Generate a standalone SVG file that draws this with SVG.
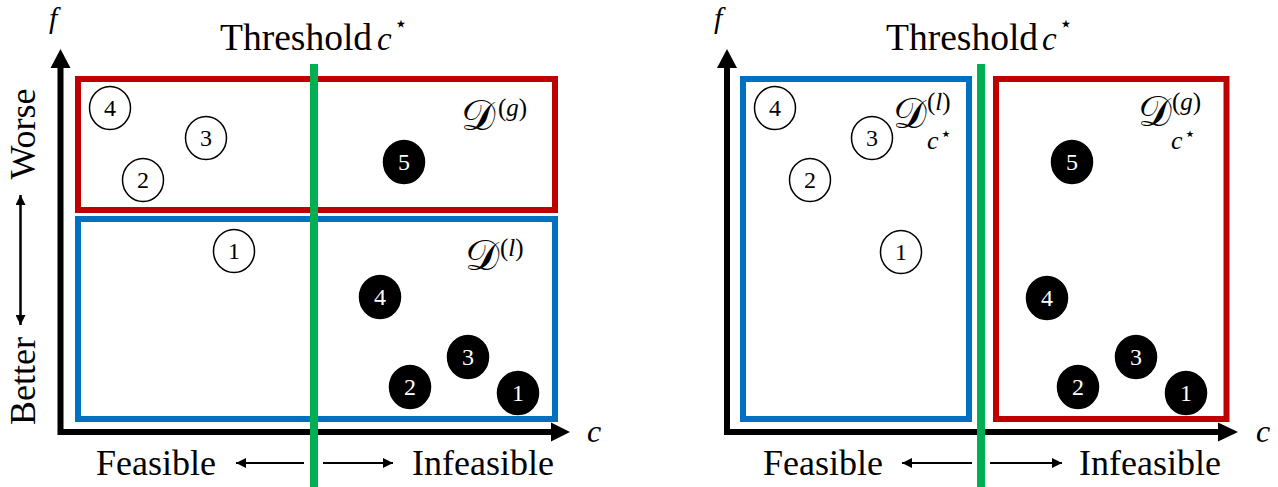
<svg xmlns="http://www.w3.org/2000/svg" width="1278" height="487" viewBox="0 0 1278 487">
  <defs>
    <style>
      .txt { font-family: "Liberation Serif", "Times New Roman", serif; fill: #000; }
      .lbl { font-size: 36px; }
      .it { font-family: "Liberation Serif", serif; font-style: italic; fill: #000; }
      .cal { font-family: "DejaVu Serif", "DejaVu Sans", "Noto Sans", serif; fill: #000; }
      .star { font-family: "DejaVu Sans", sans-serif; fill: #000; }
      .axis { fill: none; stroke: #000; stroke-width: 6; stroke-linejoin: miter; }
      .thin { stroke: #000; stroke-width: 2; fill: none; }
      .thr { stroke: #00B050; stroke-width: 8; }
      .setg { fill: none; stroke: #C00000; stroke-width: 6; }
      .setl { fill: none; stroke: #0070C0; stroke-width: 6; }
      .wpt ellipse { fill: #fff; stroke: #000; stroke-width: 1.5; }
      .bpt ellipse { fill: #000; stroke: #000; stroke-width: 1.5; }
      .num { font-family: "Liberation Serif", serif; font-size: 24px; text-anchor: middle; }
      .wpt .num { fill: #000; }
      .bpt .num { fill: #fff; }
    </style>
    <marker id="head" viewBox="0 0 10 10" refX="10" refY="5" markerWidth="10" markerHeight="10" markerUnits="userSpaceOnUse" orient="auto">
      <path d="M0,0 L10,5 L0,10 Z" fill="#000"/>
    </marker>
  </defs>
  <rect width="1278" height="487" fill="#fff"/>

  <!-- ===== Left panel: split by objective f ===== -->
  <g id="left-axes">
    <path class="axis" d="M60.5,66 V432 H552"/>
    <polygon points="50.5,68 60.5,49 70.5,68" fill="#000"/>
    <polygon points="551,422.5 570,432 551,441.5" fill="#000"/>
    <text class="it" x="49" y="28" font-size="30">f</text>
    <text class="it" x="587" y="442" font-size="32">c</text>
  </g>

  <g id="left-quality">
    <text class="txt lbl" transform="translate(35,134) rotate(-90)" text-anchor="middle">Worse</text>
    <text class="txt lbl" transform="translate(35,381) rotate(-90)" text-anchor="middle">Better</text>
  </g>

  <g id="left-sets">
    <rect id="left-Dg" class="setg" x="78" y="79" width="477" height="131"/>
    <rect id="left-Dl" class="setl" x="78" y="219" width="477" height="200"/>
    <g id="left-Dg-label">
      <text class="cal" x="461" y="130" font-size="43">𝒟</text>
      <text class="txt" x="498" y="116" font-size="25">(<tspan class="it">g</tspan>)</text>
    </g>
    <g id="left-Dl-label">
      <text class="cal" x="465" y="270" font-size="43">𝒟</text>
      <text class="txt" x="500" y="256" font-size="25">(<tspan class="it">l</tspan>)</text>
    </g>
  </g>

  <g id="left-points">
    <g class="wpt" id="lw4"><ellipse cx="110" cy="108" rx="20.5" ry="21.5"/><text class="num" x="110" y="116">4</text></g>
    <g class="wpt" id="lw3"><ellipse cx="206" cy="138" rx="20.5" ry="21.5"/><text class="num" x="206" y="146">3</text></g>
    <g class="wpt" id="lw2"><ellipse cx="143" cy="180" rx="20.5" ry="21.5"/><text class="num" x="143" y="188">2</text></g>
    <g class="wpt" id="lw1"><ellipse cx="234" cy="251" rx="20.5" ry="21.5"/><text class="num" x="234" y="259">1</text></g>
    <g class="bpt" id="lb5"><ellipse cx="404" cy="162" rx="20.5" ry="21.5"/><text class="num" x="404" y="170">5</text></g>
    <g class="bpt" id="lb4"><ellipse cx="380" cy="297" rx="20.5" ry="21.5"/><text class="num" x="380" y="305">4</text></g>
    <g class="bpt" id="lb3"><ellipse cx="468" cy="357" rx="20.5" ry="21.5"/><text class="num" x="468" y="365">3</text></g>
    <g class="bpt" id="lb2"><ellipse cx="410" cy="387" rx="20.5" ry="21.5"/><text class="num" x="410" y="395">2</text></g>
    <g class="bpt" id="lb1"><ellipse cx="518" cy="393" rx="20.5" ry="21.5"/><text class="num" x="518" y="401">1</text></g>
  </g>

  <g id="left-threshold">
    <line class="thr" x1="314" y1="64" x2="314" y2="487"/>
    <text class="txt" x="220" y="50" font-size="37.5">Threshold</text>
    <text class="it" x="377" y="50" font-size="33">c</text>
    <text class="star" x="394" y="31" font-size="22">⋆</text>
    <text class="txt lbl" x="96" y="475">Feasible</text>
    <text class="txt lbl" x="412" y="475">Infeasible</text>
  </g>

  <!-- ===== Right panel: split by constraint threshold ===== -->
  <g id="right-axes">
    <path class="axis" d="M727,66 V432 H1219"/>
    <polygon points="717,68 727,49 737,68" fill="#000"/>
    <polygon points="1218,422.5 1238,432 1218,441.5" fill="#000"/>
    <text class="it" x="714" y="28" font-size="30">f</text>
    <text class="it" x="1256" y="442" font-size="32">c</text>
  </g>

  <g id="right-sets">
    <rect id="right-Dl" class="setl" x="743" y="79" width="226" height="340"/>
    <rect id="right-Dg" class="setg" x="996" y="79" width="230.5" height="340"/>
    <g id="right-Dl-label">
      <text class="cal" x="893" y="128" font-size="42">𝒟</text>
      <text class="txt" x="927" y="110" font-size="25">(<tspan class="it">l</tspan>)</text>
      <text class="it" x="927" y="149" font-size="26">c</text>
      <text class="star" x="940" y="140" font-size="19">⋆</text>
    </g>
    <g id="right-Dg-label">
      <text class="cal" x="1138" y="126" font-size="42">𝒟</text>
      <text class="txt" x="1172" y="110" font-size="25">(<tspan class="it">g</tspan>)</text>
      <text class="it" x="1171" y="149" font-size="26">c</text>
      <text class="star" x="1184" y="140" font-size="19">⋆</text>
    </g>
  </g>

  <g id="right-points">
    <g class="wpt" id="rw4"><ellipse cx="775" cy="108" rx="20.5" ry="21.5"/><text class="num" x="775" y="116">4</text></g>
    <g class="wpt" id="rw3"><ellipse cx="872" cy="138" rx="20.5" ry="21.5"/><text class="num" x="872" y="146">3</text></g>
    <g class="wpt" id="rw2"><ellipse cx="810" cy="180" rx="20.5" ry="21.5"/><text class="num" x="810" y="188">2</text></g>
    <g class="wpt" id="rw1"><ellipse cx="901" cy="252" rx="20.5" ry="21.5"/><text class="num" x="901" y="260">1</text></g>
    <g class="bpt" id="rb5"><ellipse cx="1072" cy="162" rx="20.5" ry="21.5"/><text class="num" x="1072" y="170">5</text></g>
    <g class="bpt" id="rb4"><ellipse cx="1047" cy="298" rx="20.5" ry="21.5"/><text class="num" x="1047" y="306">4</text></g>
    <g class="bpt" id="rb3"><ellipse cx="1136" cy="357" rx="20.5" ry="21.5"/><text class="num" x="1136" y="365">3</text></g>
    <g class="bpt" id="rb2"><ellipse cx="1078" cy="387" rx="20.5" ry="21.5"/><text class="num" x="1078" y="395">2</text></g>
    <g class="bpt" id="rb1"><ellipse cx="1186" cy="393" rx="20.5" ry="21.5"/><text class="num" x="1186" y="401">1</text></g>
  </g>

  <g id="right-threshold">
    <line class="thr" x1="981" y1="64" x2="981" y2="487"/>
    <text class="txt" x="886" y="50" font-size="37.5">Threshold</text>
    <text class="it" x="1042" y="50" font-size="33">c</text>
    <text class="star" x="1059" y="31" font-size="22">⋆</text>
    <text class="txt lbl" x="763" y="475">Feasible</text>
    <text class="txt lbl" x="1079" y="475">Infeasible</text>
  </g>

  <!-- small direction arrows -->
  <g id="connectors">
    <line class="thin" x1="20.5" y1="325" x2="20.5" y2="195" marker-end="url(#head)"/>
    <line class="thin" x1="20.5" y1="195" x2="20.5" y2="325" marker-end="url(#head)"/>
    <line class="thin" x1="304" y1="463" x2="236" y2="463" marker-end="url(#head)"/>
    <line class="thin" x1="323" y1="463" x2="393" y2="463" marker-end="url(#head)"/>
    <line class="thin" x1="972" y1="463" x2="902" y2="463" marker-end="url(#head)"/>
    <line class="thin" x1="990" y1="463" x2="1062" y2="463" marker-end="url(#head)"/>
  </g>
</svg>
